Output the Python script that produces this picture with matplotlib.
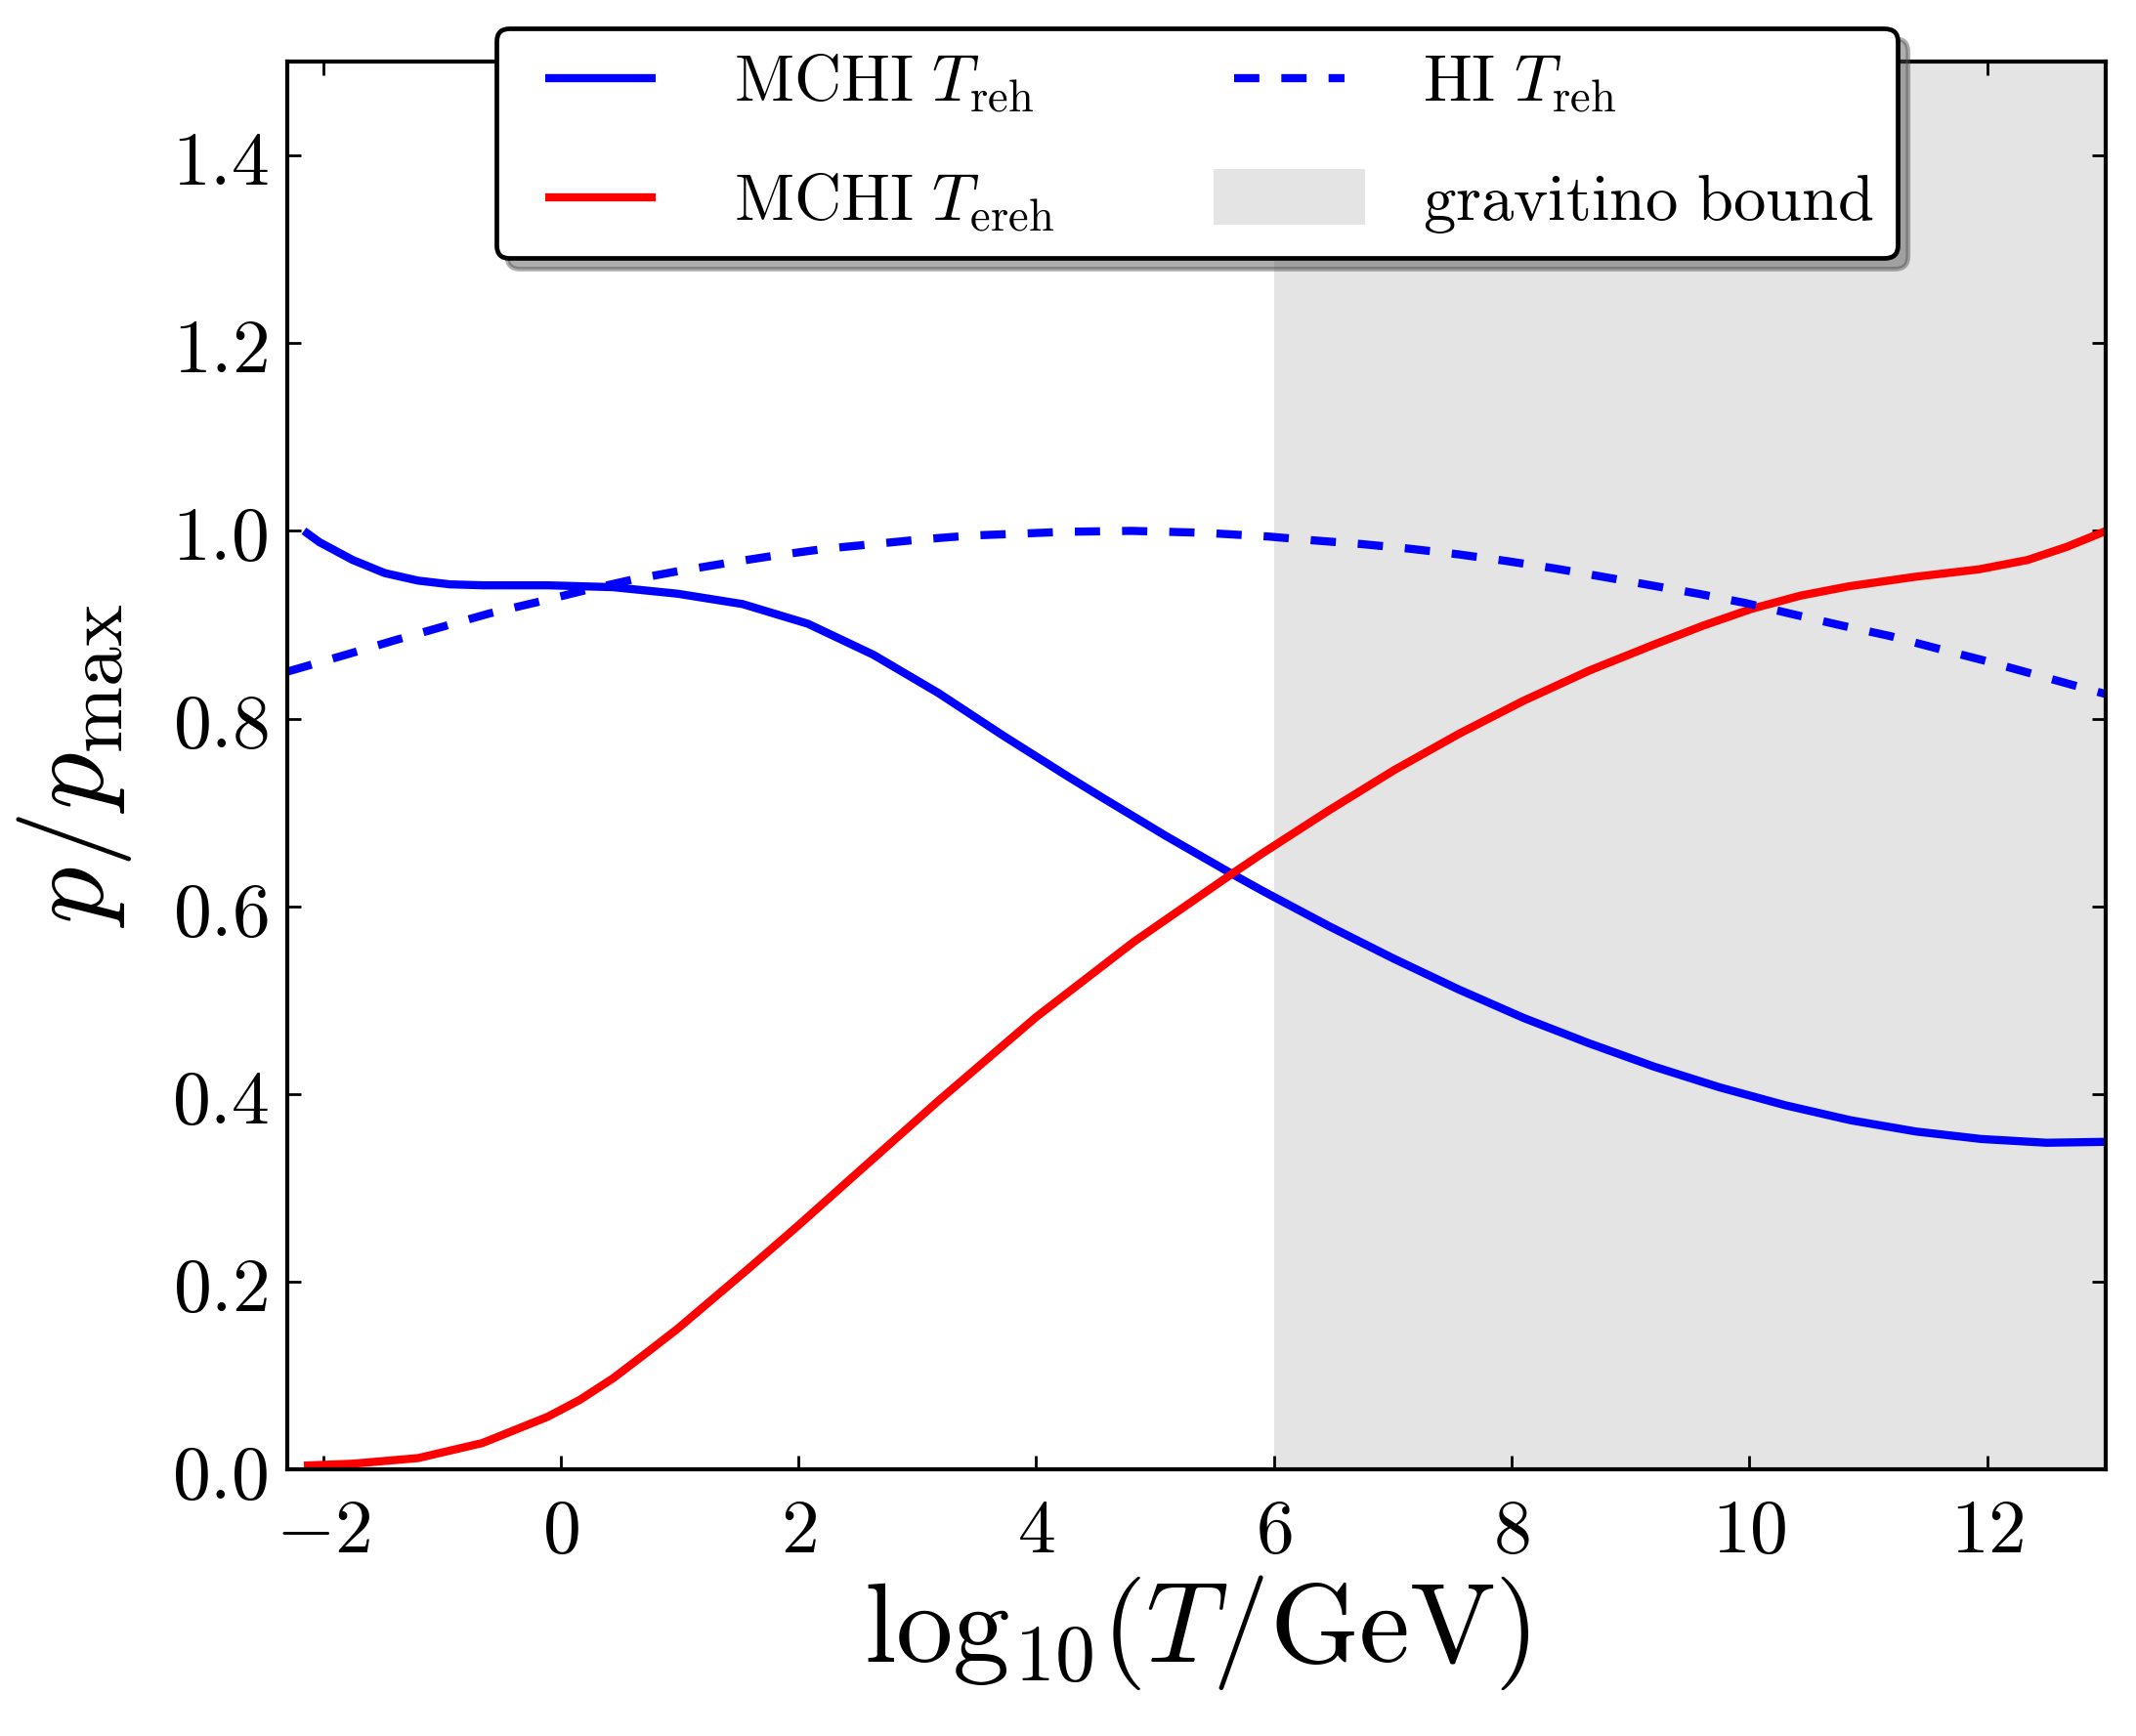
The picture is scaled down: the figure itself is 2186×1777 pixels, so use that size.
import numpy as np
import matplotlib
matplotlib.use('Agg')
import matplotlib.pyplot as plt
from matplotlib.patches import Rectangle, Patch
from matplotlib.lines import Line2D
from matplotlib.legend_handler import HandlerPatch, HandlerLine2D
from matplotlib.ticker import FuncFormatter, MultipleLocator

plt.rcParams['mathtext.fontset'] = 'cm'
plt.rcParams['font.family'] = ['DejaVu Serif']

# MCHI T_reh (solid blue)
x_mchi_reh = [-2.16, -2.03, -1.75, -1.48, -1.2, -0.93, -0.66, -0.11, 0.44, 0.985, 1.53, 2.08,
              2.63, 3.18, 3.72, 4.27, 4.54, 5.09, 5.64, 5.91, 6.46, 7.01, 7.56, 8.1, 8.65,
              9.2, 9.75, 10.3, 10.85, 11.4, 11.95, 12.5, 13.0]
y_mchi_reh = [1.0, 0.988, 0.969, 0.955, 0.947, 0.943, 0.942, 0.942, 0.940, 0.933, 0.922,
              0.901, 0.868, 0.827, 0.782, 0.738, 0.717, 0.675, 0.635, 0.616, 0.579, 0.544,
              0.511, 0.481, 0.454, 0.429, 0.407, 0.388, 0.372, 0.36, 0.352, 0.348, 0.349]

# MCHI T_ereh (solid red)
x_mchi_ereh = [-2.16, -1.75, -1.2, -0.66, -0.11, 0.16, 0.44, 0.71, 0.985, 1.59, 2.0, 2.46,
               3.18, 4.0, 4.82, 5.64, 5.91, 6.46, 7.01, 7.56, 8.1, 8.65, 9.2, 9.61, 10.02,
               10.43, 10.84, 11.39, 11.93, 12.34, 12.67, 13.0]
y_mchi_ereh = [0.004, 0.006, 0.012, 0.028, 0.056, 0.074, 0.097, 0.123, 0.150, 0.215, 0.260,
               0.312, 0.393, 0.482, 0.562, 0.634, 0.657, 0.702, 0.745, 0.784, 0.819, 0.851,
               0.879, 0.899, 0.917, 0.931, 0.941, 0.951, 0.959, 0.969, 0.983, 1.0]

# HI T_reh (dashed blue)
x_hi_reh = [-2.3, -1.78, -1.38, -0.99, -0.6, -0.2, 0.2, 0.6, 0.985, 1.41, 1.82, 2.23, 2.64,
            3.04, 3.45, 3.86, 4.24, 4.8, 5.4, 5.95, 6.32, 6.73, 7.14, 7.55, 7.95, 8.36, 8.77,
            9.17, 9.57, 9.97, 10.37, 10.78, 11.18, 11.57, 11.97, 12.37, 12.77, 13.0]
y_hi_reh = [0.85, 0.869, 0.884, 0.898, 0.912, 0.924, 0.9365, 0.948, 0.957, 0.966, 0.974,
            0.981, 0.986, 0.991, 0.995, 0.997, 0.999, 1.0, 0.998, 0.994, 0.99, 0.986, 0.981,
            0.975, 0.968, 0.96, 0.951, 0.942, 0.933, 0.923, 0.911, 0.899, 0.888, 0.875,
            0.862, 0.848, 0.834, 0.826]

gravitino_min = 6.0
labels = [r'$\mathrm{MCHI}\ T_{\rm reh}$', r'$\mathrm{MCHI}\ T_{\rm ereh}$',
          r'$\mathrm{HI}\ T_{\rm reh}$', r'$\mathrm{gravitino\ bound}$']

fig = plt.figure(figsize=(10.93, 8.885), dpi=200)
ax = fig.add_axes([0.1345, 0.1536, 0.8515, 0.8109])

ax.axvspan(gravitino_min, 14, color='#e4e4e4', lw=0, zorder=0)
l1, = ax.plot(x_mchi_reh, y_mchi_reh, color='blue', lw=3, solid_capstyle='butt')
l2, = ax.plot(x_mchi_ereh, y_mchi_ereh, color='red', lw=3, solid_capstyle='butt')
l3, = ax.plot(x_hi_reh, y_hi_reh, color='blue', lw=3, linestyle=(0, (3.1, 2.7)))

ax.set_xlim(-2.3, 13)
ax.set_ylim(0, 1.5)
ax.xaxis.set_major_locator(MultipleLocator(2))
ax.yaxis.set_major_locator(MultipleLocator(0.2))
ax.xaxis.set_major_formatter(FuncFormatter(lambda v, p: r'$%d$' % round(v)))
ax.yaxis.set_major_formatter(FuncFormatter(lambda v, p: r'$%.1f$' % v))
ax.tick_params(direction='in', length=5, width=1, top=True, right=True, labelsize=28)
ax.tick_params(axis='x', pad=9)
ax.tick_params(axis='y', pad=7)
for s in ax.spines.values():
    s.set_linewidth(1.5)

ax.set_xlabel(r'$\mathrm{log}_{10}(T/\mathrm{GeV})$', fontsize=42, labelpad=2)
ax.set_ylabel(r'$p/p_{\rm max}$', fontsize=42, labelpad=14)

gpatch = Patch(facecolor='#e4e4e4', edgecolor='none')
HPAD = 0.4


def big_patch(legend, orig_handle, xdescent, ydescent, width, height, fontsize):
    w, h = 55.8, 20.5
    cx = -xdescent + (HPAD * fontsize + width) / 2
    return Rectangle((cx - w / 2, -ydescent + height / 2 - h / 2), w, h)


leg = ax.legend([l1, l2, l3, gpatch], labels, ncol=2, loc='upper center',
                bbox_to_anchor=(0.5, 1.024), borderaxespad=0, fontsize=24,
                handlelength=1.7 + HPAD, handletextpad=1.2, columnspacing=2.35,
                borderpad=0.35, labelspacing=0.85, fancybox=True, framealpha=1,
                shadow={'ox': 4, 'oy': -4, 'facecolor': '0.3', 'edgecolor': '0.3', 'alpha': 0.45},
                handler_map={Patch: HandlerPatch(patch_func=big_patch),
                             Line2D: HandlerLine2D(xpad=HPAD)})
leg.get_frame().set_edgecolor('black')
leg.get_frame().set_linewidth(1.7)
leg.set_zorder(10)

fig.savefig('out.png', dpi=200)
